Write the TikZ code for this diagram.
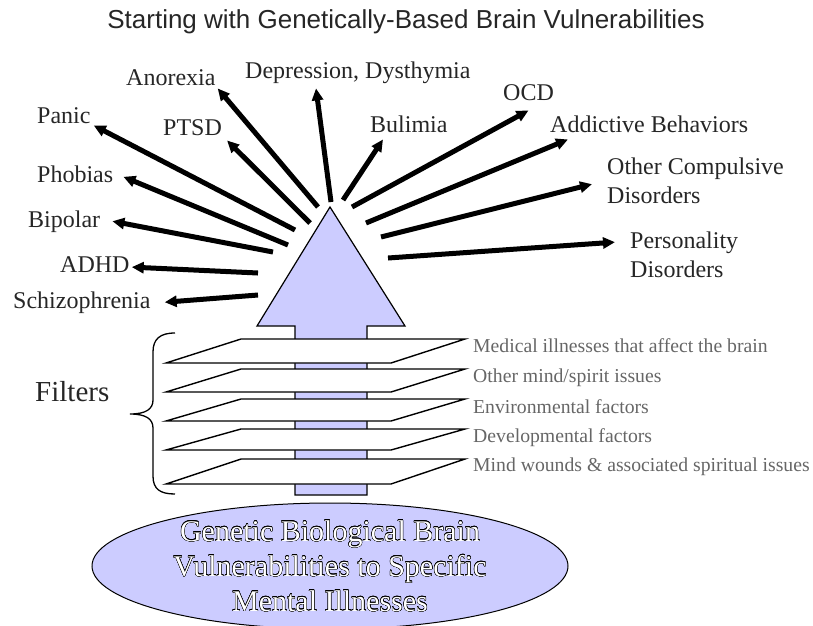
\documentclass[tikz,border=0pt]{standalone}
\usepackage{fontspec}
\setmainfont{Liberation Serif}
\newfontfamily\titlefont{Liberation Sans}
\usepackage{contour}
\contourlength{0.3pt}
\usetikzlibrary{arrows.meta, shapes.geometric}
\definecolor{lavender}{RGB}{204,204,255}

\begin{document}
\begin{tikzpicture}[x=1pt, y=-1pt,
  lbl/.style={inner sep=0pt, anchor=base west, font=\fontsize{24}{29}\selectfont, text=black!85},
  filterlbl/.style={inner sep=0pt, anchor=base west, font=\fontsize{19.7}{22}\selectfont, text=black!60},
  ray/.style={-{Triangle[length=12pt,width=11pt]}, line width=5pt},
  bigarrow/.style={draw=black, line width=1.2pt, fill=lavender},
  sheet/.style={draw=black, line width=1.4pt, fill=white}
]
  \useasboundingbox (0,0) rectangle (813,625);

  % title
  \node[font=\titlefont\fontsize{26}{30}\selectfont, anchor=base, text=black!85] (title) at (406,28)
    {Starting with Genetically-Based Brain Vulnerabilities};

  % big upward arrow and the filter sheets over it
  \draw[bigarrow] (295,495) -- (295,326) -- (257,326) -- (330,207) -- (405,326)
    -- (367,326) -- (367,495) -- cycle;
  \draw[sheet] (241,339) -- (465,339) -- (391,363) -- (166,363) -- cycle;
  \draw[sheet] (241,369) -- (465,369) -- (391,392) -- (166,392) -- cycle;
  \draw[sheet] (241,399) -- (465,399) -- (391,421) -- (166,421) -- cycle;
  \draw[sheet] (241,429) -- (465,429) -- (391,450) -- (166,450) -- cycle;
  \draw[sheet] (241,459) -- (465,459) -- (391,484) -- (166,484) -- cycle;

  % filter labels
  \node[filterlbl] (f1) at (473,352) {Medical illnesses that affect the brain};
  \node[filterlbl] (f2) at (473,382) {Other mind/spirit issues};
  \node[filterlbl] (f3) at (473,413) {Environmental factors};
  \node[filterlbl] (f4) at (473,442) {Developmental factors};
  \node[filterlbl] (f5) at (473,471) {Mind wounds \& associated spiritual issues};

  % brace
  \draw[line width=1.3pt] (175,333) .. controls (160,333) and (153,339) .. (153,352)
    -- (153,400) .. controls (153,409) and (146,414) .. (130,414)
    .. controls (146,414) and (153,419) .. (153,428)
    -- (153,476) .. controls (153,489) and (160,494) .. (175,494);
  \node[lbl, font=\fontsize{29}{34}\selectfont] (filters) at (35,401) {Filters};

  % source ellipse
  \node[ellipse, draw=black, line width=1pt, fill=lavender, inner xsep=-60pt,
        inner ysep=-60pt, minimum width=476pt, minimum height=126pt,
        align=center, text=white, font=\fontsize{30}{35}\selectfont] (genes) at (330,566)
    {\contour{black}{Genetic Biological Brain}\\
     \contour{black}{Vulnerabilities to Specific}\\
     \contour{black}{Mental Illnesses}};

  % illness labels
  \node[lbl] (anorexia) at (126,85) {Anorexia};
  \node[lbl] (depression) at (245,78) {Depression, Dysthymia};
  \node[lbl] (panic) at (37,123) {Panic};
  \node[lbl] (ptsd) at (163,135) {PTSD};
  \node[lbl] (bulimia) at (370,132) {Bulimia};
  \node[lbl] (ocd) at (503,100) {OCD};
  \node[lbl] (addictive) at (550,132) {Addictive Behaviors};
  \node[lbl] (phobias) at (37,182) {Phobias};
  \node[lbl, anchor=north west, align=left] (compulsive) at (607,158) {Other Compulsive\\Disorders};
  \node[lbl] (bipolar) at (28,227) {Bipolar};
  \node[lbl, anchor=north west, align=left] (personality) at (630,232) {Personality\\Disorders};
  \node[lbl] (adhd) at (60,272) {ADHD};
  \node[lbl] (schizo) at (13,308) {Schizophrenia};

  % ray start points around the arrow head
  \coordinate (sAnorexia) at (318,207);
  \coordinate (sDepression) at (331,202);
  \coordinate (sPtsd) at (310,223);
  \coordinate (sPanic) at (295,230);
  \coordinate (sPhobias) at (288,245);
  \coordinate (sBipolar) at (273,252);
  \coordinate (sAdhd) at (258,273);
  \coordinate (sSchizo) at (258,295);
  \coordinate (sBulimia) at (343,200);
  \coordinate (sOcd) at (352,207);
  \coordinate (sAddictive) at (366,223);
  \coordinate (sCompulsive) at (381,237);
  \coordinate (sPersonality) at (388,258);

  % rays
  \draw[ray] (sAnorexia) -- ([xshift=2pt,yshift=-3pt]anorexia.south east);
  \draw[ray] (sDepression) -- ([xshift=71pt,yshift=-5pt]depression.south west);
  \draw[ray] (sPtsd) -- ([xshift=5pt,yshift=-5pt]ptsd.south east);
  \draw[ray] (sPanic) -- ([xshift=3pt,yshift=-2pt]panic.south east);
  \draw[ray] (sPhobias) -- ([xshift=10pt,yshift=-3pt]phobias.east);
  \draw[ray] (sBipolar) -- ([xshift=12pt]bipolar.east);
  \draw[ray] (sAdhd) -- ([xshift=2pt,yshift=-3pt]adhd.east);
  \draw[ray] (sSchizo) -- ([xshift=14pt]schizo.east);
  \draw[ray] (sBulimia) -- ([xshift=13pt,yshift=-7pt]bulimia.south west);
  \draw[ray] (sOcd) -- ([yshift=-10pt]ocd.south);
  \draw[ray] (sAddictive) -- ([xshift=18pt,yshift=-7pt]addictive.south west);
  \draw[ray] (sCompulsive) -- ([xshift=-15pt,yshift=-3pt]compulsive.west);
  \draw[ray] (sPersonality) -- ([xshift=-15pt,yshift=13pt]personality.west);
\end{tikzpicture}
\end{document}
